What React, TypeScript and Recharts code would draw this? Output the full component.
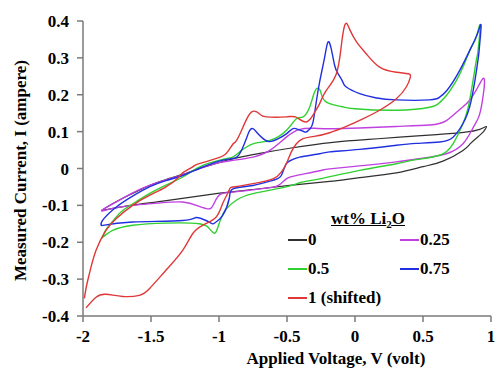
import React from "react"
import { Legend, Line, LineChart, XAxis, YAxis } from "recharts"

const FONT = '"Liberation Serif", "Times New Roman", serif'

// [voltage, current] pairs, traced round each loop
const wt0: [number, number][] = [
  [-1.865, -0.114], [-1.757, -0.09], [-1.62, -0.065], [-1.512, -0.046], [-1.39, -0.03],
  [-1.267, -0.016], [-1.145, 0.0], [-1.0, 0.016], [-0.9, 0.026], [-0.7, 0.041],
  [-0.48, 0.055], [-0.162, 0.071], [0.1, 0.079], [0.328, 0.085], [0.6, 0.092],
  [0.8, 0.098], [0.917, 0.106], [0.966, 0.114],
  [0.945, 0.1], [0.907, 0.087], [0.85, 0.068], [0.794, 0.049], [0.647, 0.02],
  [0.5, 0.005], [0.304, -0.012], [0.034, -0.025], [-0.186, -0.035], [-0.48, -0.046],
  [-0.75, -0.057], [-0.995, -0.067], [-1.387, -0.087], [-1.65, -0.1], [-1.865, -0.114],
]

const wt025: [number, number][] = [
  [-1.865, -0.116], [-1.84, -0.108], [-1.757, -0.091], [-1.635, -0.066], [-1.512, -0.046],
  [-1.39, -0.031], [-1.267, -0.017], [-1.145, 0.0], [-1.0, 0.016], [-0.9, 0.022],
  [-0.75, 0.031], [-0.627, 0.049], [-0.505, 0.085], [-0.407, 0.106], [-0.3, 0.109],
  [-0.186, 0.108], [0.034, 0.11], [0.3, 0.114], [0.549, 0.118], [0.672, 0.13],
  [0.77, 0.16], [0.843, 0.185], [0.91, 0.225], [0.941, 0.244], [0.952, 0.232],
  [0.935, 0.18], [0.91, 0.14], [0.868, 0.11], [0.794, 0.067], [0.672, 0.04],
  [0.5, 0.028], [0.304, 0.018], [0.034, 0.007], [-0.186, -0.001], [-0.26, -0.006],
  [-0.42, -0.018], [-0.505, -0.028], [-0.56, -0.045], [-0.627, -0.052], [-0.75, -0.058],
  [-0.897, -0.064], [-0.99, -0.07], [-1.03, -0.09], [-1.06, -0.108], [-1.1, -0.108],
  [-1.15, -0.102], [-1.267, -0.091], [-1.45, -0.094], [-1.635, -0.1], [-1.78, -0.108],
  [-1.865, -0.116],
]

const wt05: [number, number][] = [
  [-1.865, -0.19], [-1.85, -0.18], [-1.831, -0.166], [-1.77, -0.138], [-1.708, -0.114],
  [-1.6, -0.088], [-1.512, -0.068], [-1.39, -0.045], [-1.267, -0.023], [-1.145, 0.004],
  [-1.0, 0.022], [-0.9, 0.031], [-0.848, 0.045], [-0.75, 0.067], [-0.627, 0.076],
  [-0.505, 0.103], [-0.431, 0.135], [-0.382, 0.14], [-0.333, 0.167], [-0.3, 0.205],
  [-0.272, 0.218], [-0.25, 0.205], [-0.211, 0.18], [-0.1, 0.168], [0.0, 0.162],
  [0.304, 0.158], [0.549, 0.166], [0.62, 0.178], [0.672, 0.198], [0.74, 0.235],
  [0.794, 0.275], [0.85, 0.325], [0.892, 0.357], [0.92, 0.388],
  [0.905, 0.32], [0.892, 0.293], [0.843, 0.185], [0.794, 0.122], [0.721, 0.067],
  [0.623, 0.036], [0.45, 0.024], [0.304, 0.013], [0.034, -0.005], [-0.26, -0.028],
  [-0.4, -0.038], [-0.505, -0.05], [-0.75, -0.068], [-0.873, -0.086], [-0.946, -0.109],
  [-0.99, -0.14], [-1.022, -0.172], [-1.045, -0.173], [-1.071, -0.163], [-1.145, -0.15],
  [-1.39, -0.148], [-1.635, -0.154], [-1.782, -0.168], [-1.865, -0.19],
]

const wt075: [number, number][] = [
  [-1.865, -0.155], [-1.855, -0.14], [-1.757, -0.105], [-1.635, -0.075], [-1.512, -0.05],
  [-1.39, -0.033], [-1.267, -0.019], [-1.145, 0.0], [-1.0, 0.02], [-0.9, 0.027],
  [-0.848, 0.04], [-0.8, 0.08], [-0.775, 0.103], [-0.75, 0.108], [-0.72, 0.097],
  [-0.676, 0.081], [-0.627, 0.073], [-0.56, 0.082], [-0.505, 0.094], [-0.456, 0.108],
  [-0.42, 0.106], [-0.382, 0.101], [-0.358, 0.099], [-0.33, 0.108], [-0.309, 0.125],
  [-0.285, 0.18], [-0.26, 0.235], [-0.223, 0.302], [-0.199, 0.343], [-0.175, 0.325],
  [-0.15, 0.28], [-0.125, 0.257], [-0.09, 0.235], [-0.064, 0.221], [0.034, 0.203],
  [0.15, 0.192], [0.304, 0.186], [0.549, 0.186], [0.62, 0.193], [0.672, 0.21],
  [0.77, 0.266], [0.868, 0.339], [0.905, 0.37], [0.927, 0.388],
  [0.915, 0.33], [0.904, 0.293], [0.855, 0.185], [0.794, 0.122], [0.721, 0.085],
  [0.623, 0.072], [0.45, 0.068], [0.304, 0.063], [0.034, 0.052], [-0.186, 0.045],
  [-0.26, 0.04], [-0.407, 0.031], [-0.46, 0.024], [-0.505, 0.013], [-0.542, -0.019],
  [-0.603, -0.032], [-0.75, -0.046], [-0.897, -0.055], [-0.924, -0.08], [-0.973, -0.127],
  [-1.022, -0.145], [-1.047, -0.15], [-1.096, -0.141], [-1.169, -0.133], [-1.267, -0.141],
  [-1.635, -0.145], [-1.865, -0.155],
]

const wt1: [number, number][] = [
  [-1.99, -0.352], [-1.975, -0.32], [-1.953, -0.285], [-1.904, -0.222], [-1.831, -0.168],
  [-1.757, -0.136], [-1.635, -0.1], [-1.512, -0.073], [-1.39, -0.05], [-1.3, -0.025],
  [-1.267, -0.012], [-1.2, 0.003], [-1.169, 0.01], [-1.1, 0.018], [-1.022, 0.027],
  [-0.949, 0.04], [-0.9, 0.065], [-0.873, 0.075], [-0.824, 0.112], [-0.762, 0.153],
  [-0.701, 0.148], [-0.652, 0.14], [-0.505, 0.14], [-0.431, 0.139], [-0.358, 0.126],
  [-0.3, 0.15], [-0.26, 0.176], [-0.211, 0.212], [-0.137, 0.257], [-0.1, 0.335],
  [-0.078, 0.385], [-0.06, 0.393], [-0.04, 0.378], [0.01, 0.344], [0.083, 0.311],
  [0.181, 0.275], [0.304, 0.261], [0.39, 0.257], [0.407, 0.248],
  [0.377, 0.221], [0.304, 0.189], [0.181, 0.158], [0.05, 0.133], [-0.064, 0.114],
  [-0.186, 0.097], [-0.3, 0.087], [-0.382, 0.081], [-0.431, 0.067], [-0.468, 0.045],
  [-0.505, 0.013], [-0.542, -0.01], [-0.603, -0.028], [-0.75, -0.041], [-0.897, -0.05],
  [-0.924, -0.058], [-0.973, -0.095], [-1.022, -0.132], [-1.12, -0.154], [-1.194, -0.177],
  [-1.267, -0.222], [-1.39, -0.276], [-1.512, -0.326], [-1.586, -0.344], [-1.708, -0.347],
  [-1.831, -0.341], [-1.904, -0.349], [-1.978, -0.378],
]

const xTicks = [-2, -1.5, -1, -0.5, 0, 0.5, 1]
const yTicks = [-0.4, -0.3, -0.2, -0.1, 0, 0.1, 0.2, 0.3, 0.4]

const series = [
  { name: "0", pts: wt0, color: "#303030", width: 1.2 },
  { name: "0.25", pts: wt025, color: "#c040e0", width: 1.4 },
  { name: "0.5", pts: wt05, color: "#30d030", width: 1.4 },
  { name: "0.75", pts: wt075, color: "#2030e0", width: 1.4 },
  { name: "1 (shifted)", pts: wt1, color: "#e03838", width: 1.4 },
]

const toRows = (pts: [number, number][]) => pts.map(([v, i]) => ({ v, i }))

const tickStyle = { fill: "#000", fontSize: 17, fontWeight: "bold", fontFamily: FONT }

function XTitle(props: any) {
  const vb = props.viewBox
  return (
    <text x={vb.x + vb.width * 0.62} y={vb.y + vb.height - 5} textAnchor="middle"
      fontFamily={FONT} fontWeight="bold" fontSize={17} fill="#000">
      Applied Voltage, V (volt)
    </text>
  )
}

function YTitle(props: any) {
  const vb = props.viewBox
  const cx = vb.x + 15
  const cy = vb.y + vb.height / 2 + 2
  return (
    <text x={cx} y={cy} transform={`rotate(-90 ${cx} ${cy})`} textAnchor="middle"
      dominantBaseline="central" fontFamily={FONT} fontWeight="bold" fontSize={17} fill="#000">
      Measured Current, I (ampere)
    </text>
  )
}

const slots = [
  { left: 8, top: 35 }, { left: 120, top: 35 },
  { left: 8, top: 64 }, { left: 120, top: 64 },
  { left: 8, top: 93 },
]

function LegendBox(props: any) {
  const payload = props.payload || []
  return (
    <div style={{ position: "relative", width: 210, height: 110, fontFamily: FONT, fontWeight: "bold", fontSize: 17, color: "#000" }}>
      <div style={{ position: "absolute", left: 0, width: 176, top: 4, textAlign: "center", textDecoration: "underline", lineHeight: "20px" }}>
        wt% Li<sub style={{ fontSize: 11, lineHeight: 0 }}>2</sub>O
      </div>
      {payload.map((p: any, k: number) => (
        <div key={p.value} style={{ position: "absolute", left: slots[k].left, top: slots[k].top - 10, height: 20, display: "flex", alignItems: "center" }}>
          <span style={{ display: "inline-block", width: 19, height: 2, background: p.color, marginRight: 1 }} />
          <span>{p.value}</span>
        </div>
      ))}
    </div>
  )
}

export default function App() {
  return (
    <div style={{ position: "absolute", left: 0, top: 0, background: "#fff" }}>
      <LineChart width={496} height={369} margin={{ top: 21, right: 5, bottom: 0, left: 5 }}>
        <XAxis
          type="number"
          dataKey="v"
          domain={[-2, 1]}
          ticks={xTicks}
          interval={0}
          allowDataOverflow
          stroke="#7a7a7a"
          strokeWidth={1.5}
          tick={tickStyle}
          tickSize={6}
          tickMargin={8}
          height={53}
          label={XTitle}
        />
        <YAxis
          type="number"
          dataKey="i"
          domain={[-0.4, 0.4]}
          ticks={yTicks}
          interval={0}
          allowDataOverflow
          stroke="#7a7a7a"
          strokeWidth={1.5}
          tick={tickStyle}
          tickSize={6}
          tickMargin={8}
          width={78}
          tickFormatter={(t: number) => (t === 0 ? "0" : t.toFixed(1))}
          label={YTitle}
        />
        <Legend
          content={LegendBox}
          layout="horizontal"
          verticalAlign="middle"
          align="center"
          wrapperStyle={{ left: 280, top: 205, width: 210, height: 110 }}
        />
        {series.map((s) => (
          <Line
            key={s.name}
            name={s.name}
            data={toRows(s.pts)}
            dataKey="i"
            type="natural"
            stroke={s.color}
            strokeWidth={s.width}
            dot={false}
            activeDot={false}
            isAnimationActive={false}
          />
        ))}
      </LineChart>
    </div>
  )
}
